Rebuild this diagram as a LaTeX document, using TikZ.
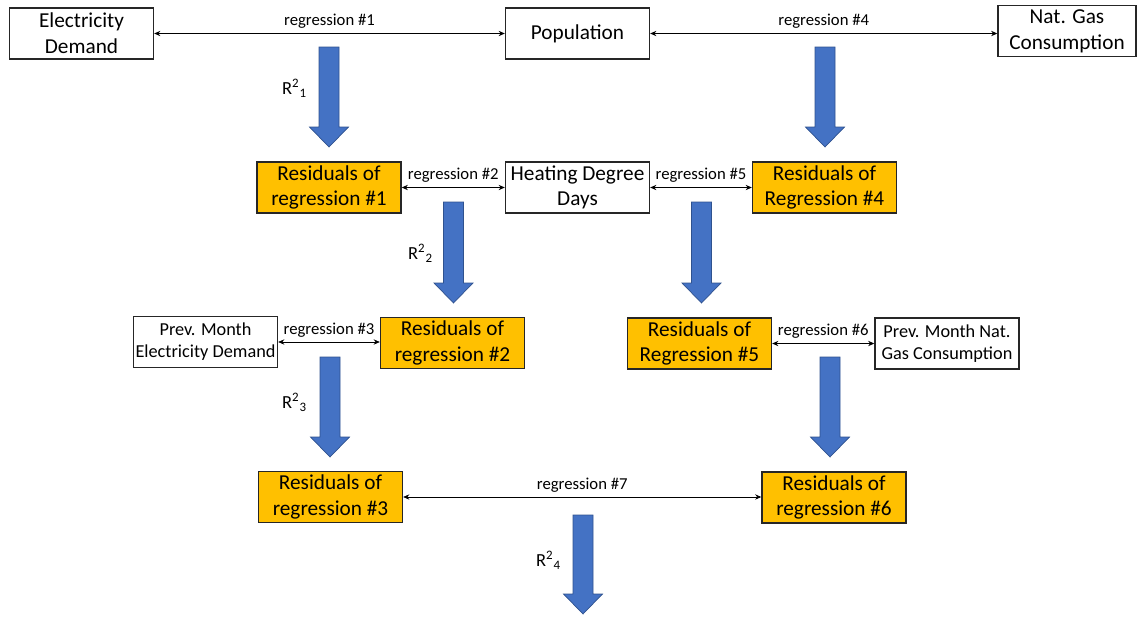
\documentclass[tikz,border=0pt]{standalone}
\usepackage{fontspec}
\setmainfont{Carlito}
\usetikzlibrary{arrows.meta}

\definecolor{resorange}{HTML}{FFC000}
\definecolor{arrowblue}{HTML}{4472C4}
\definecolor{arrowedge}{HTML}{2F528F}

% block arrow: centre x, top y, tip y
\newcommand{\bluearrow}[3]{%
	\filldraw [fill=arrowblue,draw=arrowedge,line width=0.4pt]
		(#1-10,#2) -- (#1+10,#2) -- (#1+10,#3-20) -- (#1+19.5,#3-20) -- (#1,#3)
		-- (#1-19.5,#3-20) -- (#1-10,#3-20) -- cycle;}

\begin{document}
\begin{tikzpicture}[x=0.02cm,y=-0.02cm]
\useasboundingbox (0,0) rectangle (1137,619);

% boxes
\begin{scope}[every node/.style={draw=black!85,line width=0.8pt,fill=white,align=center,minimum width=2.88cm,minimum height=1.02cm,inner sep=1pt,font=\fontsize{12.1}{14.6}\selectfont}]
	\node (ED) at (81.5,33.5) {Electricity\\Demand};
	\node (Pop) at (577.5,33.5) {Population};
	\node [minimum width=2.76cm] (Gas) at (1067,31) {Nat. Gas\\Consumption};
	\node [fill=resorange] (R1) at (329,187.5) {Residuals of\\regression \#1};
	\node (HDD) at (577.5,187.5) {Heating Degree\\Days};
	\node [fill=resorange] (R4) at (824.5,187.5) {Residuals of\\Regression \#4};
	\node [font=\fontsize{10.4}{12.4}\selectfont] (PED) at (205.5,342) {Prev. Month\\Electricity Demand};
	\node [fill=resorange] (R2) at (452.5,343) {Residuals of\\regression \#2};
	\node [fill=resorange] (R5) at (699.5,343.5) {Residuals of\\Regression \#5};
	\node [font=\fontsize{10.4}{12.4}\selectfont] (PGas) at (947,343.5) {Prev. Month Nat.\\Gas Consumption};
	\node [fill=resorange] (R3) at (330.5,497) {Residuals of\\regression \#3};
	\node [fill=resorange] (R6) at (834,497.5) {Residuals of\\regression \#6};
\end{scope}

% regressions
\begin{scope}[>={Stealth[length=3.5pt,width=3pt]},every node/.style={above,inner sep=2.5pt,font=\fontsize{9.5}{10}\selectfont}]
	\draw [<->] (ED.east) -- node {regression \#1} (ED.east -| Pop.west);
	\draw [<->] (Pop.east) -- node {regression \#4} (Pop.east -| Gas.west);
	\draw [<->] (R1.east) -- node {regression \#2} (R1.east -| HDD.west);
	\draw [<->] (HDD.east) -- node {regression \#5} (HDD.east -| R4.west);
	\draw [<->] (PED.east) -- node {regression \#3} (PED.east -| R2.west);
	\draw [<->] (R5.east) -- node {regression \#6} (R5.east -| PGas.west);
	\draw [<->] (R3.east) -- node {regression \#7} (R3.east -| R6.west);
\end{scope}

% big arrows
\bluearrow{329}{47}{147}
\bluearrow{825}{47}{147}
\bluearrow{453.5}{202}{303}
\bluearrow{701.5}{202}{303}
\bluearrow{330}{357}{457}
\bluearrow{830}{357}{457}
\bluearrow{583}{515}{614}

\begin{scope}[every node/.style={font=\fontsize{10.5}{12}\selectfont}]
	\node (L1) at (294.5,88) {R\textsuperscript{2}\textsubscript{1}};
	\node (L2) at (420.5,253) {R\textsuperscript{2}\textsubscript{2}};
	\node (L3) at (294.5,402) {R\textsuperscript{2}\textsubscript{3}};
	\node (L4) at (548.5,560) {R\textsuperscript{2}\textsubscript{4}};
\end{scope}
\end{tikzpicture}
\end{document}
